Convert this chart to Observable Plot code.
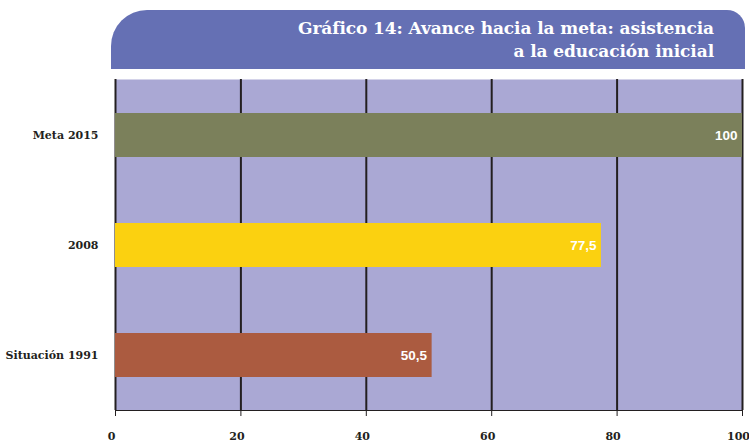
<!DOCTYPE html>
<html>
<head>
<meta charset="utf-8">
<script src="https://cdn.jsdelivr.net/npm/d3@7"></script>
<script src="https://cdn.jsdelivr.net/npm/@observablehq/plot@0.6"></script>
<style>
  body { margin: 0; background: #ffffff; }
  #wrap { position: relative; width: 749px; height: 443px; overflow: hidden; }
  #banner {
    position: absolute; left: 111px; top: 10px; width: 634px; height: 59px;
    background: #6570b4; border-radius: 36px 18px 0 0;
    box-sizing: border-box; padding: 7px 31px 0 0; text-align: right;
    color: #ffffff; font-family: "DejaVu Serif", serif; font-weight: bold;
    font-size: 17px; line-height: 23px; letter-spacing: -0.1px;
  }
  #chart { position: absolute; left: 0; top: 0; }
</style>
</head>
<body>
<div id="wrap">
  <div id="chart"></div>
  <div id="banner">Gráfico 14: Avance hacia la meta: asistencia<br>a la educación inicial</div>
</div>
<script>
const categories = ["Meta 2015", "2008", "Situación 1991"];
const values = [100, 77.5, 50.5];
const barColors = ["#7b805b", "#fbd110", "#ab5b40"];
const xTicks = [0, 20, 40, 60, 80, 100];

const data = categories.map((c, i) => ({category: c, value: values[i], color: barColors[i]}));
const fmt = v => String(v).replace(".", ",");

const chart = Plot.plot({
  width: 749,
  height: 443,
  marginLeft: 115,
  marginRight: 7,
  marginTop: 79,
  marginBottom: 33,
  style: {fontFamily: "DejaVu Serif, serif", fontWeight: "bold", fontSize: "11px", color: "#231f20", background: "transparent"},
  x: {domain: [0, 100], ticks: xTicks, label: null},
  y: {domain: categories, paddingInner: 0.6, paddingOuter: 0.3, tickSize: 0, tickPadding: 17, label: null},
  color: {type: "identity"},
  marks: [
    Plot.frame({fill: "#aaa8d4", stroke: null}),
    Plot.ruleX(xTicks, {stroke: "#231f20", strokeWidth: 2}),
    Plot.barX(data, {x: "value", y: "category", fill: "color"}),
    Plot.text(data, {
      x: "value", y: "category", text: d => fmt(d.value),
      textAnchor: "end", dx: -5, fill: "#ffffff",
      fontFamily: "Liberation Sans, Arial, sans-serif", fontWeight: "bold", fontSize: 13.5
    }),
    Plot.axisX({ticks: xTicks, tickSize: 6, text: null, label: null}),
    Plot.axisX({ticks: xTicks, tickSize: 0, tickPadding: 22, label: null, fontSize: 11, dx: -4}),
    Plot.frame({anchor: "bottom", stroke: "#231f20", strokeWidth: 1})
  ]
});
document.getElementById("chart").appendChild(chart);
</script>
</body>
</html>
